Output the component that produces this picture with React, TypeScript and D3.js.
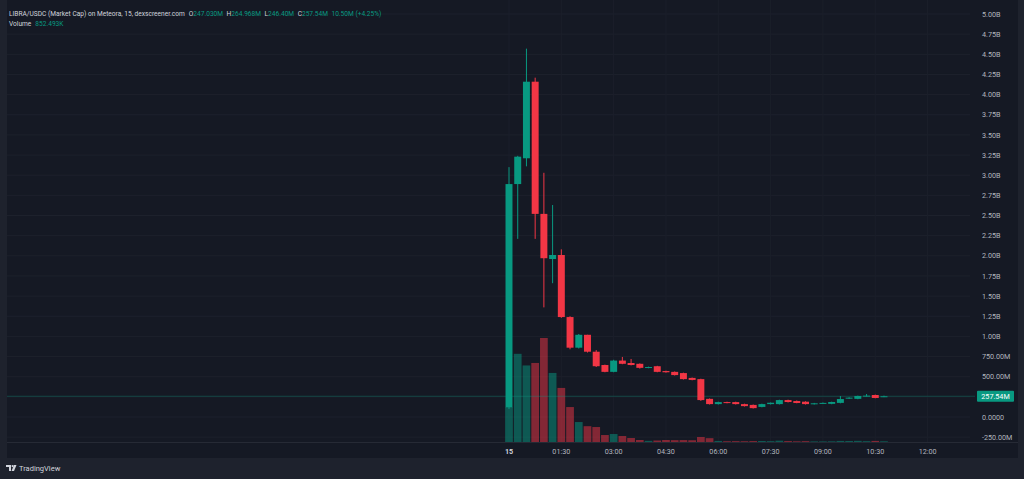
import React from "react";
import * as d3 from "d3";

// LIBRA/USDC market cap, 15 minute candles on the 15th (values in billions USD)
const candleTimes = [
  "00:00", "00:15", "00:30", "00:45", "01:00", "01:15", "01:30", "01:45",
  "02:00", "02:15", "02:30", "02:45", "03:00", "03:15", "03:30", "03:45",
  "04:00", "04:15", "04:30", "04:45", "05:00", "05:15", "05:30", "05:45",
  "06:00", "06:15", "06:30", "06:45", "07:00", "07:15", "07:30", "07:45",
  "08:00", "08:15", "08:30", "08:45", "09:00", "09:15", "09:30", "09:45",
  "10:00", "10:15", "10:30", "10:45",
];
const opens = [
  0.12, 2.89, 3.21, 4.16, 2.52, 1.96, 2.01, 1.24, 0.86, 1.02, 0.81, 0.645,
  0.56, 0.70, 0.67, 0.66, 0.61, 0.63, 0.57, 0.56, 0.545, 0.485, 0.47, 0.225,
  0.16, 0.185, 0.185, 0.16, 0.15, 0.125, 0.16, 0.16, 0.21, 0.198, 0.19, 0.16,
  0.168, 0.163, 0.175, 0.23, 0.225, 0.26, 0.273, 0.24703,
];
const highs = [
  3.10, 3.24, 4.57, 4.21, 3.03, 2.63, 2.08, 1.25, 1.03, 1.02, 0.83, 0.65,
  0.71, 0.745, 0.72, 0.665, 0.625, 0.635, 0.575, 0.565, 0.55, 0.49, 0.475, 0.23,
  0.19, 0.19, 0.19, 0.165, 0.155, 0.165, 0.18, 0.215, 0.215, 0.205, 0.195, 0.175,
  0.18, 0.19, 0.26, 0.245, 0.265, 0.285, 0.278, 0.264968,
];
const lows = [
  0.10, 2.21, 3.11, 2.21, 1.36, 1.66, 1.23, 0.84, 0.85, 0.80, 0.62, 0.555,
  0.555, 0.655, 0.64, 0.60, 0.605, 0.555, 0.55, 0.515, 0.465, 0.455, 0.20, 0.155,
  0.155, 0.17, 0.155, 0.13, 0.105, 0.12, 0.155, 0.155, 0.18, 0.17, 0.155, 0.155,
  0.165, 0.158, 0.17, 0.225, 0.22, 0.255, 0.232, 0.2464,
];
const closes = [
  2.89, 3.23, 4.16, 2.52, 1.97, 2.01, 1.24, 0.86, 1.02, 0.81, 0.63, 0.56,
  0.70, 0.66, 0.645, 0.61, 0.62, 0.56, 0.555, 0.52, 0.47, 0.46, 0.21, 0.16,
  0.185, 0.175, 0.16, 0.135, 0.11, 0.16, 0.177, 0.21, 0.186, 0.174, 0.16, 0.17,
  0.175, 0.186, 0.223, 0.24, 0.261, 0.265, 0.236, 0.25754,
];
// volume in millions USD
const volumes = [
  42, 106, 92, 95, 125, 83, 65, 42, 24, 19, 18, 8.4,
  9.6, 7.2, 4.8, 2.4, 1.4, 1.8, 2.4, 2.2, 2.3, 2.1, 6.0, 4.6,
  1.3, 0.9, 1.0, 0.9, 1.1, 1.2, 1.0, 1.6, 1.1, 0.8, 1.0, 0.7,
  0.7, 0.8, 1.3, 1.2, 1.4, 1.0, 1.3, 0.852,
];
const priceTicks = [
  -0.25, 0, 0.25, 0.5, 0.75, 1, 1.25, 1.5, 1.75, 2, 2.25, 2.5, 2.75,
  3, 3.25, 3.5, 3.75, 4, 4.25, 4.5, 4.75, 5,
];
const timeTickLabels = ["15", "01:30", "03:00", "04:30", "06:00", "07:30", "09:00", "10:30", "12:00"];
const headerTitle = "LIBRA/USDC (Market Cap) on Meteora, 15, dexscreener.com";
const headerValues = [
  ["O", "247.030M"],
  ["H", "264.968M"],
  ["L", "246.40M"],
  ["C", "257.54M"],
  ["", "10.50M (+4.25%)"],
];
const volumeLabel = "852.493K";

const W = 1024;
const H = 479;
const UP = "#089981";
const DOWN = "#f23645";
const FONT = "Roboto, 'DejaVu Sans', sans-serif";

const parseTime = (s: string) => {
  const [h, m] = s === "15" ? [0, 0] : s.split(":").map(Number);
  return new Date(2025, 1, 15, h, m);
};

function formatPrice(v: number) {
  if (Math.abs(v) < 1e-9) return "0.0000";
  if (Math.abs(v) >= 1) return `${v.toFixed(2)}B`;
  return `${(v * 1000).toFixed(2)}M`;
}

export default function App() {
  const pane = { left: 7, right: 1018, top: 0, bottom: 458 };
  const plotBottom = 442;

  const x = d3
    .scaleTime()
    .domain([new Date(2025, 1, 15, 0, 0), new Date(2025, 1, 15, 12, 0)])
    .range([509, 927.6]);
  const y = d3.scaleLinear().domain([0, 5]).range([417, 14]);
  const yVol = d3.scaleLinear().domain([0, d3.max(volumes)!]).range([plotBottom, 338]);

  const times = candleTimes.map(parseTime);
  const step = x(d3.timeMinute.offset(times[0], 15)) - x(times[0]);
  const bodyW = step * 0.8;

  const timeTicks = timeTickLabels.map((label) => ({ label, t: parseTime(label) }));

  const last = closes.length - 1;
  const lastY = y(closes[last]);

  return (
    <svg
      width={W}
      height={H}
      viewBox={`0 0 ${W} ${H}`}
      style={{ position: "absolute", left: 0, top: 0, display: "block" }}
      fontFamily={FONT}
    >
      <rect x={0} y={0} width={W} height={H} fill="#1e222d" />
      <rect
        x={pane.left}
        y={pane.top}
        width={pane.right - pane.left}
        height={pane.bottom - pane.top}
        fill="#151924"
      />

      {/* grid */}
      {priceTicks.map((t) => (
        <line
          key={`gy${t}`}
          x1={pane.left}
          x2={970}
          y1={y(t)}
          y2={y(t)}
          stroke="#1d212c"
          strokeWidth={1}
        />
      ))}
      {timeTicks.map(({ t }) => (
        <line
          key={`gx${+t}`}
          x1={x(t)}
          x2={x(t)}
          y1={pane.top}
          y2={plotBottom}
          stroke="#1b1f2a"
          strokeWidth={1}
        />
      ))}

      {/* volume */}
      {volumes.map((v, i) => {
        const up = closes[i] >= opens[i];
        return (
          <rect
            key={`v${i}`}
            x={x(times[i]) - step / 2 + 0.5}
            y={yVol(v)}
            width={step - 1}
            height={Math.max(0.6, plotBottom - yVol(v))}
            fill={up ? UP : DOWN}
            fillOpacity={0.5}
          />
        );
      })}

      {/* last price line */}
      <line
        x1={pane.left}
        x2={975}
        y1={lastY}
        y2={lastY}
        stroke={UP}
        strokeOpacity={0.35}
        strokeWidth={1}
      />

      {/* candles */}
      {times.map((t, i) => {
        const up = closes[i] >= opens[i];
        const col = up ? UP : DOWN;
        const cx = x(t);
        const top = y(Math.max(opens[i], closes[i]));
        const bot = y(Math.min(opens[i], closes[i]));
        return (
          <g key={`c${i}`}>
            <line x1={cx} x2={cx} y1={y(highs[i])} y2={y(lows[i])} stroke={col} strokeWidth={1} />
            <rect x={cx - bodyW / 2} y={top} width={bodyW} height={Math.max(1, bot - top)} fill={col} />
          </g>
        );
      })}

      {/* time axis */}
      <line x1={pane.left} x2={pane.right} y1={plotBottom + 0.5} y2={plotBottom + 0.5} stroke="#262a35" />
      {timeTicks.map(({ label, t }) => (
        <text
          key={`tx${label}`}
          x={x(t)}
          y={454}
          textAnchor="middle"
          fontSize={7.2}
          fill={label === "15" ? "#d1d4dc" : "#b2b5be"}
          fontWeight={label === "15" ? 700 : 400}
        >
          {label}
        </text>
      ))}

      {/* price axis */}
      {priceTicks.map((t) => (
        <text key={`py${t}`} x={982} y={y(t) + 2.6} fontSize={7.2} fill="#b2b5be">
          {formatPrice(t)}
        </text>
      ))}
      <rect x={977} y={lastY - 5.5} width={37} height={11} rx={1} fill={UP} />
      <text x={995.5} y={lastY + 2.6} textAnchor="middle" fontSize={7.2} fill="#ffffff">
        {formatPrice(closes[last])}
      </text>

      {/* legend */}
      <text x={9} y={15.5} fontSize={6.6} fill="#d1d4dc">
        {headerTitle}
        {headerValues.map(([k, v], i) =>
          k ? (
            <React.Fragment key={`h${i}`}>
              <tspan dx={i === 0 ? 4 : 3.5}>{k}</tspan>
              <tspan fill={UP}>{v}</tspan>
            </React.Fragment>
          ) : (
            <tspan key={`h${i}`} dx={3.5} fill={UP}>
              {v}
            </tspan>
          )
        )}
      </text>
      <text x={9} y={25.5} fontSize={6.6} fill="#d1d4dc">
        Volume
        <tspan dx={4} fill={UP}>{volumeLabel}</tspan>
      </text>

      {/* TradingView mark */}
      <g transform="translate(6,465)" fill="#d1d4dc">
        <path d="M0 0 H5 V6 H3 V2 H0 Z" />
        <circle cx={6.6} cy={1.1} r={1.1} />
        <path d="M8 0 H10.5 L8 6 H5.5 Z" />
      </g>
      <text x={19} y={471} fontSize={7.5} fill="#d1d4dc">
        TradingView
      </text>
    </svg>
  );
}
